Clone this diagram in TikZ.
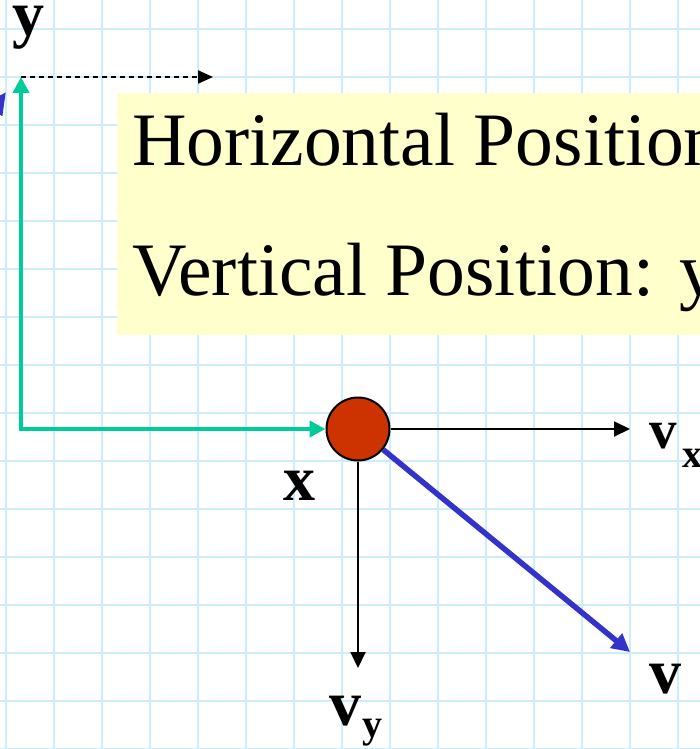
\documentclass[tikz,border=0pt]{standalone}
\usepackage{fontspec}
\setmainfont{Liberation Serif}
\usetikzlibrary{arrows.meta}
\definecolor{gridblue}{HTML}{CCECFF}
\definecolor{boxyellow}{HTML}{FFFFCC}
\definecolor{arrgreen}{HTML}{00CC99}
\definecolor{ballred}{HTML}{CC3300}
\definecolor{vblue}{HTML}{3333CC}
\tikzset{
  gridline/.style={draw=gridblue, line width=1.8pt},
  greenarrow/.style={draw=arrgreen, line width=4pt, line cap=rect, -{Triangle[length=16pt,width=16pt]}},
  thinarrow/.style={draw=black, line width=2pt, -{Triangle[length=16pt,width=15pt]}},
  dasharrow/.style={draw=black, line width=2pt, dash pattern=on 5pt off 4pt, -{Triangle[length=15pt,width=13pt]}},
  bluearrow/.style={draw=vblue, line width=5.5pt, -{Triangle[length=18pt,width=18pt]}},
  lbl/.style={inner sep=0pt, anchor=base west, font=\bfseries\fontsize{64}{70}\selectfont},
  bigtext/.style={inner sep=0pt, anchor=base west, font=\fontsize{75.5}{80}\selectfont},
}
\begin{document}
\begin{tikzpicture}[x=1pt,y=-1pt]
\useasboundingbox (0,0) rectangle (700,749);
\clip (0,0) rectangle (700,749);
\fill[white] (0,0) rectangle (700,749);
% grid
\foreach \i in {0,...,14} {\draw[gridline] (6+48*\i,0) -- (6+48*\i,749);}
\foreach \j in {0,...,15} {\draw[gridline] (0,29+48*\j) -- (700,29+48*\j);}
% yellow box
\fill[boxyellow] (117,93) rectangle (720,335);
\node[bigtext] (hpos) at (132,165) {Horizontal Position: x};
\node[bigtext] (vpos) at (132,295) {Vertical Position: y};
% coordinates
\coordinate (origin) at (21,429);
\coordinate (ytip) at (21,77);
\coordinate (dtip) at (213,77);
\coordinate (vxtip) at (630,429);
\coordinate (vytip) at (358,668);
\coordinate (vtip) at (630,652);
\coordinate (fragstart) at (-40,158);
\coordinate (fragtip) at (6,92);
% ball
\node[circle, draw=black, line width=2pt, fill=ballred, minimum size=63pt, inner sep=0pt] (ball) at (358,429) {};
% arrows
\draw[dasharrow] (ytip) -- (dtip);
\draw[greenarrow] (origin) -- (ytip);
\draw[greenarrow] (origin) -- (ball.west);
\draw[thinarrow] (ball) -- (vxtip);
\draw[thinarrow] (ball) -- (vytip);
\draw[bluearrow] (ball) -- (vtip);
\draw[bluearrow, -{Triangle[length=22pt,width=20pt]}] (fragstart) -- (fragtip);
% labels
\node[lbl] (ylab) at (12,36) {y};
\node[lbl] (xlab) at (283,500) {x};
\node[lbl, font=\bfseries\fontsize{55}{60}\selectfont] (vxlab) at (649,448) {v};
\node[lbl, font=\bfseries\fontsize{40}{44}\selectfont] (vxsub) at (682,467) {x};
\node[lbl] (vylab) at (329,725) {v};
\node[lbl, font=\bfseries\fontsize{40}{44}\selectfont] (vysub) at (362,737) {y};
\node[lbl] (vlab) at (649,693) {v};
\end{tikzpicture}
\end{document}
